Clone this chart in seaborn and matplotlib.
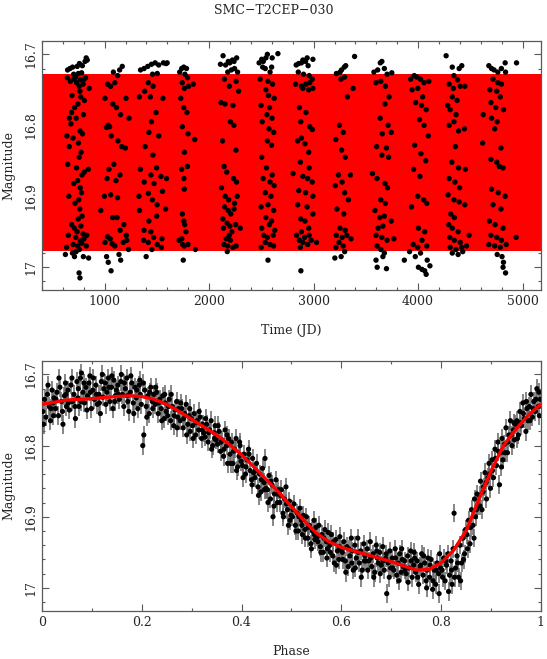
import numpy as np
import pandas as pd
import matplotlib
matplotlib.use("Agg")
import matplotlib.pyplot as plt
from matplotlib.ticker import MultipleLocator, FormatStrFormatter
import seaborn as sns

# ---- time series (JD, magnitude), read season by season ----
jd = [
    645, 668, 693, 737, 758, 786, 812, 823, 833, 748, 703, 779,
    642, 672, 706, 722, 731, 757, 768, 794, 803, 817, 852, 688, 763, 771, 806, 744, 712, 683, 662, 727, 797,
    677, 764, 787, 638, 697, 749, 661, 774, 756, 646, 731, 805, 843, 783, 741, 704, 766, 778, 657, 752, 716, 762, 784,
    747, 684, 709, 772, 736, 793, 652, 723, 802, 829, 767, 698, 743, 781, 824, 635, 691, 758, 727, 796, 624, 711, 846, 755, 763,
    1003, 1028, 1057, 1083, 1097, 1124, 1143, 1168, 1204, 1113, 1078, 1152, 1233, 1017, 1032, 1047, 1063, 1127, 1163, 1198,
    1088, 1041, 1022, 1108, 1147, 997, 1058, 1123, 963, 1077, 1118, 1183, 1148, 1027, 1053, 1207, 1003, 1072, 1097, 1178,
    1137, 1018, 1034, 1153, 1061, 1228, 1212,
    1343, 1377, 1412, 1448, 1483, 1517, 1562, 1587, 1458, 1503, 1417, 1463, 1332, 1383, 1437, 1557, 1492, 1447, 1423, 1518,
    1387, 1462, 1342, 1443, 1497, 1538, 1592, 1378, 1472, 1418, 1553, 1328, 1457, 1502, 1333, 1498, 1583, 1423, 1377, 1442,
    1468, 1548, 1372, 1417, 1503, 1452, 1397, 1543, 1598,
    1718, 1737, 1757, 1783, 1768, 1793, 1742, 1763, 1803, 1848, 1728, 1757, 1787, 1743, 1798, 1862, 1763, 1737, 1792, 1758,
    1762, 1743, 1757, 1766, 1778, 1738, 1712, 1745, 1761, 1797, 1868, 1752,
    2108, 2133, 2157, 2183, 2197, 2223, 2238, 2263, 2178, 2213, 2243, 2272, 2147, 2258, 2193, 2282, 2113, 2152, 2228, 2203,
    2237, 2128, 2257, 2143, 2168, 2233, 2262, 2118, 2153, 2187, 2243, 2268, 2148, 2183, 2207, 2238, 2132, 2172, 2198, 2253,
    2137, 2193, 2218, 2163, 2203, 2142, 2177, 2227, 2258, 2173, 2298,
    2478, 2503, 2518, 2543, 2557, 2603, 2658, 2512, 2537, 2583, 2598, 2488, 2563, 2607, 2543, 2568, 2623, 2497, 2578, 2553,
    2602, 2508, 2573, 2618, 2557, 2597, 2503, 2548, 2603, 2517, 2583, 2622, 2538, 2592, 2497, 2563, 2617, 2543, 2597, 2503,
    2577, 2628, 2523, 2557, 2613, 2537, 2583, 2498, 2617, 2563,
    2833, 2857, 2883, 2897, 2923, 2938, 2993, 2947, 2853, 2903, 2957, 2827, 2883, 2927, 2963, 2987, 2897, 2953, 2992, 2863,
    2927, 2877, 2963, 2988, 2847, 2883, 2917, 2953, 2873, 2957, 2803, 2897, 2943, 2987, 2857, 2923, 2993, 2847, 2937, 2993,
    2877, 2917, 2953, 2883, 2837, 2913, 2957, 2863, 2897, 2943, 2977, 2873, 2878, 3028,
    3218, 3253, 3267, 3293, 3307, 3262, 3297, 3378, 3392, 3323, 3247, 3283, 3212, 3268, 3303, 3237, 3352, 3208, 3273, 3297,
    3333, 3223, 3288, 3253, 3302, 3217, 3273, 3318, 3243, 3283, 3213, 3297, 3263, 3358, 3203,
    3577, 3613, 3638, 3653, 3677, 3703, 3748, 3597, 3643, 3687, 3722, 3683, 3637, 3713, 3657, 3743, 3603, 3697, 3653, 3717,
    3563, 3607, 3683, 3707, 3643, 3687, 3587, 3633, 3677, 3743, 3617, 3663, 3597, 3653, 3703, 3607, 3643, 3677, 3597, 3663,
    3608, 3697, 3768,
    3928, 3963, 3987, 4023, 4057, 4103, 3943, 3997, 4043, 3977, 4033, 4077, 4013, 4057, 4097, 3967, 4027, 4073, 3957, 4017,
    3997, 4053, 4083, 3937, 4003, 4063, 4037, 3953, 3997, 4083, 3918, 3973, 4023, 4087, 3868, 4003, 4037, 4063, 4077, 4113,
    4268, 4327, 4393, 4418, 4343, 4377, 4297, 4337, 4403, 4447, 4327, 4373, 4283, 4307, 4363, 4297, 4343, 4387, 4443, 4357,
    4323, 4387, 4453, 4297, 4353, 4397, 4287, 4343, 4393, 4447, 4313, 4347, 4293, 4327, 4383, 4303, 4347, 4403, 4307, 4363,
    4417, 4463, 4327, 4383, 4427, 4488,
    4677, 4703, 4727, 4763, 4797, 4833, 4837, 4717, 4763, 4797, 4687, 4753, 4787, 4697, 4743, 4817, 4703, 4757, 4733, 4617,
    4793, 4697, 4753, 4777, 4813, 4703, 4767, 4833, 4717, 4793, 4683, 4737, 4813, 4697, 4753, 4797, 4677, 4733, 4787, 4843,
    4757, 4803, 4817, 4813, 4837, 4942, 4938, 4623,
]
mag_jd = [
    16.722, 16.720, 16.718, 16.717, 16.713, 16.716, 16.710, 16.705, 16.708, 16.727, 16.728, 16.726,
    16.733, 16.738, 16.735, 16.732, 16.740, 16.745, 16.736, 16.742, 16.735, 16.733, 16.748, 16.758, 16.752, 16.760, 16.765, 16.770, 16.775, 16.782, 16.790, 16.790, 16.785,
    16.798, 16.808, 16.812, 16.815, 16.818, 16.825, 16.830, 16.838, 16.845, 16.855, 16.860, 16.866, 16.862, 16.870, 16.878, 16.882, 16.888, 16.895, 16.900, 16.905, 16.910, 16.918, 16.928,
    16.932, 16.940, 16.945, 16.942, 16.950, 16.953, 16.955, 16.958, 16.960, 16.955, 16.963, 16.968, 16.970, 16.966, 16.970, 16.972, 16.980, 16.975, 16.978, 16.985, 16.982, 16.985, 16.987, 17.008, 17.015,
    16.762, 16.742, 16.745, 16.725, 16.740, 16.730, 16.722, 16.717, 16.762, 16.775, 16.770, 16.785, 16.790, 16.803, 16.800, 16.802, 16.815, 16.822, 16.830, 16.832,
    16.855, 16.862, 16.875, 16.878, 16.870, 16.900, 16.898, 16.902, 16.920, 16.930, 16.930, 16.940, 16.948, 16.957, 16.960, 16.955, 16.965, 16.967, 16.970, 16.965,
    16.982, 16.985, 16.993, 16.990, 17.005, 16.975, 16.962,
    16.722, 16.720, 16.717, 16.714, 16.712, 16.715, 16.712, 16.713, 16.728, 16.727, 16.740, 16.745, 16.760, 16.752, 16.760, 16.762, 16.782, 16.795, 16.810, 16.815,
    16.830, 16.842, 16.862, 16.870, 16.860, 16.872, 16.875, 16.880, 16.882, 16.896, 16.893, 16.900, 16.905, 16.912, 16.920, 16.928, 16.918, 16.935, 16.948, 16.950,
    16.958, 16.960, 16.962, 16.965, 16.968, 16.975, 16.985, 16.972, 16.712,
    16.725, 16.720, 16.718, 16.720, 16.728, 16.733, 16.740, 16.748, 16.745, 16.742, 16.762, 16.775, 16.782, 16.802, 16.812, 16.820, 16.838, 16.862, 16.858, 16.875,
    16.890, 16.925, 16.935, 16.940, 16.950, 16.960, 16.962, 16.968, 16.970, 16.968, 16.975, 16.990,
    16.714, 16.702, 16.715, 16.710, 16.712, 16.708, 16.710, 16.705, 16.725, 16.722, 16.720, 16.725, 16.735, 16.738, 16.745, 16.752, 16.768, 16.770, 16.772, 16.795,
    16.800, 16.822, 16.835, 16.858, 16.866, 16.875, 16.880, 16.888, 16.900, 16.905, 16.910, 16.900, 16.915, 16.920, 16.925, 16.918, 16.932, 16.938, 16.942, 16.940,
    16.945, 16.955, 16.950, 16.960, 16.962, 16.968, 16.970, 16.972, 16.970, 16.978, 16.945,
    16.712, 16.707, 16.710, 16.705, 16.700, 16.705, 16.699, 16.718, 16.720, 16.725, 16.718, 16.735, 16.738, 16.742, 16.750, 16.758, 16.762, 16.772, 16.775, 16.785,
    16.790, 16.795, 16.805, 16.810, 16.822, 16.828, 16.845, 16.860, 16.870, 16.875, 16.880, 16.885, 16.895, 16.900, 16.915, 16.912, 16.920, 16.930, 16.935, 16.945,
    16.940, 16.948, 16.955, 16.958, 16.955, 16.965, 16.968, 16.972, 16.970, 16.990,
    16.715, 16.713, 16.712, 16.708, 16.710, 16.705, 16.707, 16.716, 16.725, 16.728, 16.730, 16.742, 16.745, 16.742, 16.740, 16.735, 16.748, 16.750, 16.748, 16.775,
    16.782, 16.795, 16.802, 16.806, 16.822, 16.818, 16.826, 16.838, 16.852, 16.860, 16.868, 16.872, 16.875, 16.880, 16.892, 16.895, 16.900, 16.912, 16.915, 16.925,
    16.932, 16.935, 16.945, 16.950, 16.955, 16.958, 16.955, 16.962, 16.965, 16.968, 16.962, 16.972, 17.005, 16.965,
    16.727, 16.725, 16.722, 16.718, 16.716, 16.735, 16.732, 16.748, 16.703, 16.760, 16.800, 16.810, 16.820, 16.835, 16.845, 16.870, 16.870, 16.885, 16.880, 16.895,
    16.905, 16.918, 16.925, 16.945, 16.948, 16.955, 16.958, 16.955, 16.965, 16.970, 16.972, 16.978, 16.985, 16.960, 16.987,
    16.725, 16.722, 16.712, 16.710, 16.720, 16.728, 16.726, 16.740, 16.738, 16.745, 16.760, 16.770, 16.790, 16.800, 16.812, 16.810, 16.830, 16.832, 16.842, 16.845,
    16.868, 16.875, 16.882, 16.888, 16.905, 16.910, 16.920, 16.930, 16.928, 16.935, 16.945, 16.942, 16.955, 16.958, 16.962, 16.970, 16.975, 16.980, 16.990, 16.985,
    17.000, 17.002, 16.960,
    16.735, 16.730, 16.732, 16.735, 16.740, 16.738, 16.750, 16.748, 16.760, 16.768, 16.772, 16.778, 16.792, 16.800, 16.815, 16.828, 16.840, 16.850, 16.862, 16.872,
    16.900, 16.905, 16.910, 16.915, 16.945, 16.950, 16.962, 16.968, 16.972, 16.970, 16.978, 16.985, 16.980, 16.990, 16.990, 17.000, 17.003, 17.005, 17.010, 16.998,
    16.702, 16.718, 16.720, 16.716, 16.730, 16.736, 16.742, 16.748, 16.745, 16.745, 16.760, 16.765, 16.772, 16.778, 16.785, 16.800, 16.795, 16.808, 16.805, 16.830,
    16.852, 16.860, 16.862, 16.875, 16.880, 16.888, 16.898, 16.905, 16.908, 16.912, 16.925, 16.930, 16.940, 16.945, 16.950, 16.958, 16.962, 16.965, 16.972, 16.975,
    16.972, 16.970, 16.980, 16.982, 16.978, 16.955,
    16.716, 16.720, 16.722, 16.725, 16.720, 16.712, 16.725, 16.735, 16.740, 16.742, 16.750, 16.752, 16.760, 16.768, 16.775, 16.778, 16.790, 16.795, 16.805, 16.825,
    16.832, 16.848, 16.852, 16.858, 16.860, 16.890, 16.895, 16.900, 16.912, 16.918, 16.935, 16.940, 16.945, 16.955, 16.958, 16.962, 16.968, 16.970, 16.972, 16.968,
    16.982, 16.985, 16.993, 17.000, 17.008, 16.712, 16.958, 16.785,
]

# ---- phased light curve (phase, magnitude) ----
phase = [
    0.002, 0.005, 0.008, 0.011, 0.014, 0.017, 0.020, 0.022, 0.024, 0.027, 0.030, 0.033, 0.036, 0.039, 0.042, 0.045, 0.047, 0.049,
    0.052, 0.055, 0.058, 0.061, 0.064, 0.067, 0.070, 0.072, 0.074, 0.077, 0.079, 0.082, 0.085, 0.088, 0.091, 0.094, 0.096, 0.099,
    0.102, 0.105, 0.108, 0.111, 0.114, 0.117, 0.119, 0.122, 0.124, 0.127, 0.130, 0.133, 0.136, 0.139, 0.142, 0.144, 0.147, 0.149,
    0.152, 0.155, 0.158, 0.161, 0.164, 0.167, 0.170, 0.172, 0.174, 0.177, 0.180, 0.183, 0.186, 0.189, 0.192, 0.195, 0.197, 0.199,
    0.202, 0.204, 0.206, 0.209, 0.212, 0.215, 0.218, 0.221, 0.224, 0.227, 0.230, 0.233, 0.236, 0.239, 0.242, 0.245, 0.247, 0.249,
    0.252, 0.255, 0.258, 0.261, 0.264, 0.267, 0.270, 0.272, 0.274, 0.277, 0.280, 0.283, 0.286, 0.289, 0.292, 0.295, 0.297, 0.299,
    0.302, 0.305, 0.308, 0.311, 0.314, 0.317, 0.320, 0.322, 0.324, 0.327, 0.330, 0.333, 0.336, 0.339, 0.342, 0.345, 0.347, 0.349,
    0.352, 0.355, 0.358, 0.361, 0.364, 0.367, 0.370, 0.372, 0.374, 0.377, 0.380, 0.383, 0.386, 0.389, 0.392, 0.395, 0.397, 0.399,
    0.402, 0.405, 0.408, 0.411, 0.414, 0.417, 0.420, 0.422, 0.424, 0.427, 0.430, 0.433, 0.436, 0.439, 0.442, 0.445, 0.447, 0.449,
    0.452, 0.455, 0.458, 0.461, 0.463, 0.466, 0.469, 0.472, 0.474, 0.477, 0.480, 0.483, 0.486, 0.489, 0.492, 0.494, 0.496, 0.499,
    0.502, 0.505, 0.508, 0.511, 0.514, 0.517, 0.520, 0.522, 0.524, 0.527, 0.530, 0.533, 0.536, 0.539, 0.542, 0.545, 0.547, 0.549,
    0.552, 0.555, 0.558, 0.561, 0.564, 0.567, 0.570, 0.572, 0.574, 0.577, 0.580, 0.583, 0.586, 0.589, 0.592, 0.595, 0.597, 0.599,
    0.602, 0.605, 0.608, 0.611, 0.614, 0.617, 0.620, 0.622, 0.624, 0.627, 0.630, 0.633, 0.636, 0.639, 0.642, 0.645, 0.647, 0.649,
    0.652, 0.655, 0.658, 0.661, 0.664, 0.667, 0.670, 0.672, 0.674, 0.677, 0.680, 0.683, 0.686, 0.689, 0.691, 0.694, 0.697, 0.699,
    0.702, 0.705, 0.708, 0.711, 0.714, 0.717, 0.720, 0.722, 0.724, 0.727, 0.730, 0.733, 0.736, 0.739, 0.742, 0.745, 0.747, 0.749,
    0.752, 0.755, 0.758, 0.761, 0.764, 0.767, 0.770, 0.772, 0.774, 0.777, 0.780, 0.783, 0.786, 0.789, 0.792, 0.795, 0.797, 0.799,
    0.802, 0.805, 0.808, 0.811, 0.814, 0.817, 0.820, 0.822, 0.824, 0.826, 0.829, 0.832, 0.835, 0.838, 0.841, 0.844, 0.847, 0.849,
    0.852, 0.855, 0.858, 0.861, 0.864, 0.867, 0.869, 0.872, 0.874, 0.877, 0.879, 0.882, 0.885, 0.888, 0.891, 0.894, 0.896, 0.899,
    0.902, 0.905, 0.908, 0.911, 0.914, 0.917, 0.920, 0.922, 0.924, 0.927, 0.930, 0.933, 0.936, 0.939, 0.942, 0.945, 0.947, 0.949,
    0.952, 0.955, 0.958, 0.961, 0.964, 0.967, 0.970, 0.972, 0.974, 0.977, 0.980, 0.983, 0.986, 0.989, 0.992, 0.995, 0.997, 0.999,
]
mag_phase = [
    16.752, 16.735, 16.760, 16.728, 16.745, 16.765, 16.722, 16.740, 16.733, 16.748, 16.725, 16.758, 16.718, 16.738, 16.770, 16.730, 16.712, 16.745,
    16.722, 16.750, 16.715, 16.738, 16.728, 16.762, 16.710, 16.733, 16.745, 16.705, 16.698, 16.725, 16.740, 16.718, 16.730, 16.712, 16.702, 16.748,
    16.722, 16.735, 16.715, 16.742, 16.728, 16.755, 16.710, 16.732, 16.720, 16.712, 16.725, 16.705, 16.738, 16.718, 16.748, 16.708, 16.730, 16.722,
    16.715, 16.735, 16.710, 16.728, 16.745, 16.720, 16.705, 16.738, 16.752, 16.725, 16.712, 16.740, 16.718, 16.733, 16.748, 16.715, 16.728, 16.742,
    16.800, 16.785, 16.722, 16.745, 16.730, 16.755, 16.718, 16.738, 16.728, 16.742, 16.725, 16.755, 16.735, 16.748, 16.730, 16.762, 16.740, 16.752,
    16.758, 16.735, 16.765, 16.745, 16.772, 16.750, 16.738, 16.760, 16.748, 16.765, 16.748, 16.775, 16.755, 16.742, 16.770, 16.758, 16.780, 16.762,
    16.772, 16.755, 16.785, 16.765, 16.778, 16.760, 16.790, 16.770, 16.782, 16.788, 16.770, 16.795, 16.778, 16.765, 16.800, 16.782, 16.772, 16.792,
    16.798, 16.780, 16.808, 16.792, 16.815, 16.778, 16.800, 16.825, 16.790, 16.812, 16.795, 16.825, 16.805, 16.790, 16.830, 16.815, 16.800, 16.822,
    16.828, 16.812, 16.840, 16.820, 16.805, 16.835, 16.848, 16.818, 16.838, 16.845, 16.825, 16.858, 16.840, 16.865, 16.832, 16.852, 16.818, 16.860,
    16.862, 16.842, 16.875, 16.855, 16.900, 16.868, 16.848, 16.880, 16.862, 16.880, 16.862, 16.895, 16.875, 16.858, 16.890, 16.912, 16.878, 16.898,
    16.900, 16.882, 16.912, 16.895, 16.920, 16.888, 16.905, 16.925, 16.898, 16.918, 16.900, 16.930, 16.912, 16.938, 16.920, 16.905, 16.932, 16.915,
    16.928, 16.912, 16.942, 16.925, 16.950, 16.918, 16.935, 16.945, 16.922, 16.940, 16.925, 16.955, 16.965, 16.932, 16.948, 16.960, 16.928, 16.945,
    16.950, 16.935, 16.962, 16.942, 16.970, 16.955, 16.930, 16.948, 16.975, 16.940, 16.958, 16.930, 16.965, 16.948, 16.975, 16.938, 16.955, 16.962,
    16.945, 16.962, 16.935, 16.970, 16.952, 16.978, 16.940, 16.958, 16.965, 16.950, 16.968, 16.942, 16.975, 16.958, 17.008, 16.965, 16.948, 16.972,
    16.958, 16.975, 16.945, 16.982, 16.965, 16.952, 16.978, 16.960, 16.970, 16.962, 16.980, 16.955, 16.972, 16.948, 16.985, 16.968, 16.958, 16.978,
    16.962, 16.995, 16.970, 16.952, 16.982, 16.965, 16.990, 16.975, 16.958, 16.985, 16.960, 17.002, 16.975, 16.995, 16.965, 16.980, 16.952, 16.972,
    16.975, 16.958, 16.990, 16.968, 16.952, 16.982, 16.962, 16.995, 16.945, 16.895, 16.972, 16.955, 16.985, 16.940, 16.965, 16.930, 16.952, 16.918,
    16.925, 16.905, 16.938, 16.890, 16.912, 16.875, 16.900, 16.868, 16.885, 16.870, 16.850, 16.890, 16.858, 16.838, 16.875, 16.845, 16.825, 16.860,
    16.820, 16.845, 16.805, 16.828, 16.795, 16.855, 16.810, 16.790, 16.820, 16.798, 16.775, 16.810, 16.785, 16.765, 16.800, 16.778, 16.792, 16.770,
    16.765, 16.785, 16.752, 16.772, 16.740, 16.762, 16.780, 16.748, 16.765, 16.745, 16.728, 16.760, 16.738, 16.752, 16.720, 16.745, 16.758, 16.735,
]
# second pass of points read from the denser parts of the phased curve
phase_2 = [
    0.003, 0.012, 0.018, 0.023, 0.028, 0.034, 0.041, 0.048, 0.053, 0.060, 0.066, 0.073, 0.078, 0.084, 0.090, 0.097,
    0.103, 0.109, 0.115, 0.121, 0.128, 0.134, 0.140, 0.146, 0.153, 0.159, 0.165, 0.171, 0.178, 0.184, 0.190, 0.196,
    0.203, 0.210, 0.216, 0.222, 0.228, 0.234, 0.240, 0.246, 0.253, 0.259, 0.265, 0.271, 0.278, 0.284, 0.290, 0.296,
    0.303, 0.309, 0.315, 0.321, 0.328, 0.334, 0.340, 0.346, 0.353, 0.359, 0.365, 0.371, 0.378, 0.384, 0.390, 0.396,
    0.403, 0.409, 0.415, 0.421, 0.428, 0.434, 0.440, 0.446, 0.453, 0.459, 0.465, 0.471, 0.478, 0.484, 0.490, 0.497,
    0.503, 0.509, 0.515, 0.521, 0.528, 0.534, 0.540, 0.546, 0.553, 0.559, 0.565, 0.571, 0.578, 0.584, 0.590, 0.596,
    0.603, 0.609, 0.615, 0.621, 0.628, 0.634, 0.640, 0.646, 0.653, 0.659, 0.665, 0.671, 0.678, 0.684, 0.690, 0.696,
    0.703, 0.709, 0.715, 0.721, 0.728, 0.734, 0.740, 0.746, 0.753, 0.759, 0.765, 0.771, 0.778, 0.784, 0.790, 0.796,
    0.803, 0.809, 0.815, 0.821, 0.827, 0.833, 0.839, 0.845, 0.853, 0.859, 0.866, 0.871, 0.878, 0.884, 0.890, 0.897,
    0.903, 0.909, 0.915, 0.921, 0.928, 0.934, 0.941, 0.946, 0.953, 0.959, 0.965, 0.971, 0.978, 0.984, 0.990, 0.996,
]
mag_phase_2 = [
    16.770, 16.715, 16.748, 16.758, 16.735, 16.705, 16.752, 16.728, 16.740, 16.705, 16.745, 16.720, 16.738, 16.712, 16.750, 16.725,
    16.705, 16.728, 16.740, 16.700, 16.742, 16.718, 16.702, 16.738, 16.728, 16.700, 16.712, 16.730, 16.702, 16.755, 16.722, 16.708,
    16.712, 16.760, 16.725, 16.748, 16.718, 16.740, 16.765, 16.728, 16.745, 16.728, 16.758, 16.775, 16.740, 16.762, 16.785, 16.748,
    16.790, 16.768, 16.752, 16.778, 16.762, 16.782, 16.805, 16.790, 16.772, 16.795, 16.805, 16.785, 16.825, 16.808, 16.835, 16.795,
    16.845, 16.830, 16.812, 16.855, 16.835, 16.870, 16.848, 16.862, 16.880, 16.850, 16.885, 16.868, 16.870, 16.900, 16.882, 16.905,
    16.890, 16.920, 16.900, 16.912, 16.930, 16.915, 16.945, 16.925, 16.935, 16.950, 16.930, 16.958, 16.950, 16.935, 16.968, 16.942,
    16.960, 16.978, 16.945, 16.965, 16.972, 16.950, 16.985, 16.962, 16.975, 16.958, 16.985, 16.948, 16.980, 16.962, 16.952, 16.985,
    16.972, 16.958, 16.990, 16.945, 16.975, 16.992, 16.962, 16.950, 16.985, 16.968, 16.955, 17.000, 16.968, 16.990, 16.975, 17.008,
    16.985, 16.962, 17.005, 16.975, 16.985, 16.965, 16.990, 16.960, 16.945, 16.915, 16.930, 16.890, 16.885, 16.865, 16.852, 16.840,
    16.835, 16.818, 16.808, 16.830, 16.810, 16.795, 16.785, 16.768, 16.790, 16.768, 16.755, 16.738, 16.765, 16.748, 16.735, 16.725,
]
mag_err = 0.013

# ---- fitted model curve (red line) ----
model_phase = [0.0, 0.05, 0.1, 0.15, 0.175, 0.2, 0.225, 0.25, 0.275, 0.3, 0.325, 0.35, 0.375, 0.4, 0.425,
               0.45, 0.475, 0.5, 0.525, 0.55, 0.575, 0.6, 0.625, 0.65, 0.675, 0.7, 0.725, 0.75, 0.775,
               0.8, 0.825, 0.85, 0.875, 0.9, 0.925, 0.95, 0.975, 1.0]
model_mag = [16.742, 16.736, 16.734, 16.731, 16.730, 16.731, 16.735, 16.742, 16.752, 16.763, 16.774, 16.785,
             16.798, 16.813, 16.830, 16.848, 16.866, 16.886, 16.905, 16.923, 16.935, 16.943, 16.948, 16.953,
             16.958, 16.963, 16.969, 16.975, 16.974, 16.965, 16.947, 16.920, 16.877, 16.836, 16.800, 16.777,
             16.757, 16.742]

jd_range = [400, 5175]
mag_range = [17.032, 16.681]

all_phase = phase + phase_2
all_mag = mag_phase + mag_phase_2

sns.set_style("ticks")
plt.rcParams['font.family'] = ['DejaVu Serif']
plt.rcParams['font.size'] = 9

fig = plt.figure(figsize=(5.47, 6.59), dpi=100)
ax1 = fig.add_axes([0.0768, 0.560, 0.912, 0.378])
ax2 = fig.add_axes([0.0768, 0.0733, 0.912, 0.379])

# top: time series with the model band
ax1.fill_between(jd_range, min(model_mag) - 0.002, max(model_mag) + 0.002, color='red', lw=0, zorder=1)
sns.scatterplot(x=jd, y=mag_jd, color='black', s=15, edgecolor='none', ax=ax1, zorder=3)
ax1.set_xlim(jd_range)
ax1.set_ylim(mag_range)
ax1.set_xlabel('Time (JD)')
ax1.set_ylabel('Magnitude')
ax1.xaxis.set_major_locator(MultipleLocator(1000))
ax1.xaxis.set_minor_locator(MultipleLocator(200))

# bottom: phased light curve
ax2.errorbar(all_phase, all_mag, yerr=mag_err, fmt='none', ecolor='0.4', elinewidth=1.1, zorder=2)
sns.scatterplot(x=all_phase, y=all_mag, color='black', s=14, edgecolor='none', ax=ax2, zorder=3)
sns.lineplot(x=model_phase, y=model_mag, sort=False, color='red', lw=2.4, ax=ax2, zorder=4)
ax2.set_xlim(0, 1)
ax2.set_ylim(mag_range)
ax2.set_xlabel('Phase')
ax2.set_ylabel('Magnitude')
ax2.xaxis.set_major_locator(MultipleLocator(0.2))
ax2.xaxis.set_minor_locator(MultipleLocator(0.1))
ax2.xaxis.set_major_formatter(FormatStrFormatter('%g'))

for ax in (ax1, ax2):
    ax.yaxis.set_major_locator(MultipleLocator(0.1))
    ax.yaxis.set_minor_locator(MultipleLocator(0.02))
    ax.yaxis.set_major_formatter(FormatStrFormatter('%g'))
    ax.tick_params(which='both', direction='in', top=True, right=True, color='0.35', labelsize=9)
    ax.tick_params(which='major', length=5, width=0.8)
    ax.tick_params(which='minor', length=2.5, width=0.8)
    for lab in ax.get_yticklabels():
        lab.set_rotation(90)
        lab.set_va('center')
    for sp in ax.spines.values():
        sp.set_color('0.35')
        sp.set_linewidth(0.9)
    ax.xaxis.labelpad = 12
    ax.yaxis.labelpad = 6

fig.text(0.5, 1 - 11 / 659, 'SMC\u2212T2CEP\u2212030', ha='center', va='center', fontsize=9)

fig.savefig('out.png', dpi=100)
